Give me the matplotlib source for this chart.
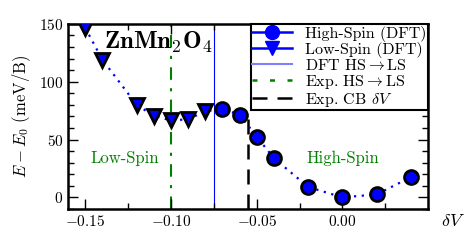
import matplotlib
matplotlib.use("Agg")
import matplotlib.pyplot as plt
from matplotlib.lines import Line2D

plt.rcParams['font.family'] = 'cmr10'
plt.rcParams['mathtext.fontset'] = 'cm'
plt.rcParams['axes.formatter.use_mathtext'] = True

# data
ls_dv = [-0.15, -0.14, -0.12, -0.11, -0.10, -0.09, -0.08]
ls_e = [146.5, 119, 80, 70.5, 66.5, 67.5, 74.5]
hs_dv = [-0.07, -0.06, -0.05, -0.04, -0.02, 0.00, 0.02, 0.04]
hs_e = [76.5, 71.5, 52.5, 34, 9, 0, 2.5, 17.5]

dft_transition = -0.075
exp_transition = -0.10
exp_cb = -0.055
exp_cb_top = 76

fig = plt.figure(figsize=(4.73, 2.49), dpi=100)
ax = fig.add_axes([0.144, 0.161, 0.761, 0.743])

ax.plot(ls_dv + hs_dv, ls_e + hs_e, color='blue', lw=1.6, dashes=(1, 2.5), zorder=2)
ax.plot(ls_dv, ls_e, 'v', color='blue', mec='black', mew=2, ms=10, zorder=4)
ax.plot(hs_dv, hs_e, 'o', color='blue', mec='black', mew=2, ms=10, zorder=4)

ax.axvline(dft_transition, color='blue', lw=0.8, zorder=1)
ax.axvline(exp_transition, color='green', lw=1.5, dashes=(6, 4, 1.5, 4), zorder=1)
ax.vlines(exp_cb, -10, exp_cb_top, color='black', lw=1.8, linestyles=(0, (6, 4)), zorder=1)

ax.text(-0.139, 129, r'$\mathbf{ZnMn_2O_4}$', fontsize=18)
ax.text(-0.127, 34, 'Low-Spin', color='green', fontsize=12, ha='center', va='center')
ax.text(0.0, 34, 'High-Spin', color='green', fontsize=12, ha='center', va='center')

ax.set_xlim(-0.16, 0.05)
ax.set_ylim(-10, 150)
ax.set_xticks([-0.15, -0.10, -0.05, 0.00])
ax.set_xticklabels(['$-0.15$', '$-0.10$', '$-0.05$', '$0.00$'])
ax.set_xticks([-0.125, -0.075, -0.025, 0.025], minor=True)
ax.set_yticks([0, 50, 100, 150])
ax.set_yticks(range(-10, 151, 10), minor=True)
ax.tick_params(which='both', direction='in', top=True, right=True, labelsize=11)
ax.tick_params(which='major', length=7, width=1)
ax.tick_params(which='minor', length=4, width=1)
for s in ax.spines.values():
    s.set_linewidth(1.8)

ax.set_ylabel(r'$E-E_0$ (meV/B)', fontsize=12)
ax.set_xlabel(r'$\delta V$', fontsize=13)
ax.xaxis.set_label_coords(1.07, -0.02)

handles = [
    Line2D([], [], color='blue', marker='o', mfc='blue', mec='blue', ms=10, lw=1.8),
    Line2D([], [], color='blue', marker='v', mfc='blue', mec='blue', ms=10, lw=1.8),
    Line2D([], [], color='#7f7fff', lw=1.5),
    Line2D([], [], color='green', lw=1.8, dashes=(2, 5)),
    Line2D([], [], color='black', lw=1.8, dashes=(6, 4)),
]
labels = ['High-Spin (DFT)', 'Low-Spin (DFT)', r'DFT HS$\rightarrow$LS',
          r'Exp. HS$\rightarrow$LS', r'Exp. CB $\delta V$']
leg = ax.legend(handles, labels, loc='upper right', fontsize=11.5, borderaxespad=0,
                fancybox=False, framealpha=1, edgecolor='black', handlelength=2.5,
                labelspacing=0.0, borderpad=0.1, handletextpad=0.8)
leg.get_frame().set_linewidth(1.5)

fig.savefig('out.png', dpi=100)
